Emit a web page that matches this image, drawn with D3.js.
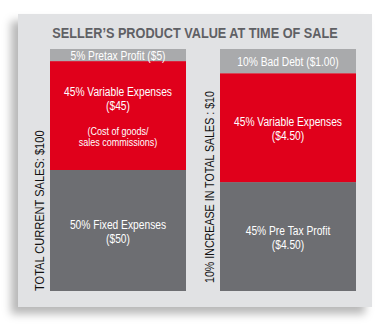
<!DOCTYPE html>
<html>
<head>
<meta charset="utf-8">
<script src="https://cdn.jsdelivr.net/npm/d3@7/dist/d3.min.js"></script>
<style>
  html, body { margin: 0; padding: 0; background: #ffffff; }
  svg { display: block; }
  text { font-family: "Liberation Sans", Arial, sans-serif; }
</style>
</head>
<body>
<div id="chart"></div>
<script>
// Two stacked columns, each split into three shares of a sale (percent of total).
const title = "SELLER\u2019S PRODUCT VALUE AT TIME OF SALE";
const categories = ["TOTAL CURRENT SALES: $100", "10% INCREASE IN TOTAL SALES : $10"];

// Segments listed bottom to top
const segmentKeys = ["bottom", "middle", "top"];
const bottomValues = [50, 45];
const middleValues = [45, 45];
const topValues = [5, 10];

const bottomLabels = [["50% Fixed Expenses", "($50)"], ["45% Pre Tax Profit", "($4.50)"]];
const middleLabels = [["45% Variable Expenses", "($45)"], ["45% Variable Expenses", "($4.50)"]];
const middleNotes = [["(Cost of goods/", "sales commissions)"], []];
const topLabels = [["5% Pretax Profit ($5)"], ["10% Bad Debt ($1.00)"]];

const segmentColors = { bottom: "#6d6e72", middle: "#e0001b", top: "#a9aaac" };

// narrow type: regular sans squeezed horizontally
const NARROW = 0.82;

const W = 382, H = 325;
const svg = d3.select("#chart").append("svg").attr("width", W).attr("height", H);

// soft drop shadow behind the card
const defs = svg.append("defs");
const f = defs.append("filter").attr("id", "shadow")
  .attr("x", "-20%").attr("y", "-20%").attr("width", "140%").attr("height", "140%");
f.append("feDropShadow").attr("dx", -7).attr("dy", 7).attr("stdDeviation", 4)
  .attr("flood-color", "#000").attr("flood-opacity", 0.28);

svg.append("rect").attr("x", 18).attr("y", 14).attr("width", 354).attr("height", 293)
  .attr("fill", "#e1e2e4").attr("filter", "url(#shadow)");

svg.append("text")
  .attr("transform", `translate(195,38) scale(${NARROW},1)`)
  .attr("text-anchor", "middle")
  .attr("font-size", 15.5).attr("font-weight", "bold").attr("fill", "#5f6064")
  .text(title);

const rows = categories.map((c, i) => ({
  category: c, bottom: bottomValues[i], middle: middleValues[i], top: topValues[i],
  labels: { bottom: bottomLabels[i], middle: middleLabels[i], top: topLabels[i] },
  notes: middleNotes[i]
}));

const x = d3.scaleBand().domain(categories).range([50, 356]).paddingInner(0.2).paddingOuter(0);
const y = d3.scaleLinear().domain([0, 100]).range([291, 49]);

const stacked = d3.stack().keys(segmentKeys)(rows);

const g = svg.append("g");
stacked.forEach(layer => {
  const key = layer.key;
  g.selectAll(null).data(layer).join("rect")
    .attr("x", d => x(d.data.category))
    .attr("width", x.bandwidth())
    .attr("y", d => y(d[1]))
    .attr("height", d => y(d[0]) - y(d[1]))
    .attr("fill", segmentColors[key]);
});

// segment labels, centred in each block
stacked.forEach(layer => {
  const key = layer.key;
  layer.forEach(d => {
    const cx = x(d.data.category) + x.bandwidth() / 2;
    const cy = (y(d[0]) + y(d[1])) / 2;
    const lines = d.data.labels[key];
    const notes = key === "middle" ? d.data.notes : [];
    const lh = 14.5;
    const noteLh = 11;
    const noteGap = 25;
    const mainH = (lines.length - 1) * lh;
    const totalH = mainH + (notes.length ? noteGap + (notes.length - 1) * noteLh : 0);
    const y0 = cy - totalH / 2 + 1;
    const t = svg.append("text")
      .attr("transform", `translate(${cx},0) scale(${NARROW},1)`)
      .attr("text-anchor", "middle").attr("fill", "#ffffff").attr("font-size", 12.5);
    lines.forEach((ln, i) => {
      t.append("tspan").attr("x", 0).attr("y", y0 + i * lh)
        .attr("dominant-baseline", "central").text(ln);
    });
    notes.forEach((ln, i) => {
      t.append("tspan").attr("x", 0).attr("y", y0 + mainH + noteGap + i * noteLh)
        .attr("dominant-baseline", "central").attr("font-size", 11).text(ln);
    });
  });
});

// rotated axis captions beside each column
const capX = [40, 210];
const capBottom = [291, 283];
const capSize = [13.5, 13];
categories.forEach((c, i) => {
  svg.append("text")
    .attr("transform", `translate(${capX[i]},${capBottom[i]}) rotate(-90) scale(${NARROW},1)`)
    .attr("text-anchor", "start").attr("dominant-baseline", "central")
    .attr("font-size", capSize[i]).attr("fill", "#111").text(c);
});
</script>
</body>
</html>
